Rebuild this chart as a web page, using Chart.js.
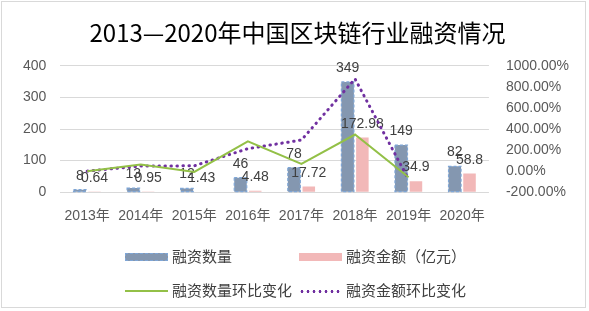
<!DOCTYPE html>
<html>
<head>
<meta charset="utf-8">
<script src="https://cdn.jsdelivr.net/npm/chart.js@4/dist/chart.umd.min.js"></script>
<style>
body { margin: 0; background: #fff; }
#wrap { position: relative; width: 589px; height: 311px; }
#frame { position: absolute; left: 1px; top: 1px; width: 585px; height: 307px; border: 1px solid #D9D9D9; box-sizing: border-box; pointer-events: none; }
.lg-text { position: absolute; font: 15px 'Noto Sans CJK SC', sans-serif; color: #404040; line-height: 18px; white-space: nowrap; }
.lg-sw { position: absolute; box-sizing: border-box; }
</style>
</head>
<body>
<div id="wrap">
  <canvas id="c" width="589" height="311"></canvas>
  <div id="frame"></div>
  <div id="legend"></div>
</div>
<script>
var years = ["2013年", "2014年", "2015年", "2016年", "2017年", "2018年", "2019年", "2020年"];
var dealCount = [8, 13, 12, 46, 78, 349, 149, 82];
var dealAmount = [0.64, 0.95, 1.43, 4.48, 17.72, 172.98, 34.9, 58.8];
var countChange = [0, 62.5, -7.7, 283.3, 69.6, 347.4, -57.3, null];
var amountChange = [0, 48.4, 50.5, 213.3, 295.5, 876.2, -79.8, null];

var tickFont = { family: "'Liberation Sans', 'Noto Sans CJK SC', sans-serif", size: 14 };

// dashed outline for the count bars, then value labels once both bar sets are drawn
var barExtras = {
  id: 'barExtras',
  afterDatasetDraw: function (chart, args) {
    var ds = chart.data.datasets[args.index];
    var ctx = chart.ctx;
    if (ds.dashBorder) {
      ctx.save();
      ctx.strokeStyle = ds.dashBorder;
      ctx.lineWidth = 1.2;
      ctx.setLineDash([3, 2]);
      args.meta.data.forEach(function (bar) {
        var p = bar.getProps(['x', 'y', 'base', 'width'], true);
        ctx.strokeRect(p.x - p.width / 2, p.y, p.width, p.base - p.y);
      });
      ctx.restore();
    }
    if (args.index !== 0) return; // dataset 0 is the last bar set painted
    ctx.save();
    ctx.font = "14px 'Liberation Sans', sans-serif";
    ctx.fillStyle = '#404040';
    ctx.textAlign = 'center';
    ctx.textBaseline = 'alphabetic';
    chart.data.datasets.forEach(function (d, di) {
      if (!d.showLabels) return;
      chart.getDatasetMeta(di).data.forEach(function (bar, i) {
        ctx.fillText(String(d.data[i]), bar.x, bar.y - 10);
      });
    });
    ctx.restore();
  }
};

var ctx = document.getElementById('c').getContext('2d');
var myChart = new Chart(ctx, {
  type: 'bar',
  data: {
    labels: years,
    datasets: [
      {
        label: '融资数量',
        data: dealCount,
        backgroundColor: '#8497B0',
        borderWidth: 0,
        dashBorder: '#7FA6D6',
        showLabels: true,
        yAxisID: 'y',
        order: 1,
        categoryPercentage: 0.55,
        barPercentage: 0.85
      },
      {
        label: '融资金额（亿元）',
        data: dealAmount,
        backgroundColor: '#F2B8B8',
        borderWidth: 0,
        showLabels: true,
        yAxisID: 'y',
        order: 1,
        categoryPercentage: 0.55,
        barPercentage: 0.85
      },
      {
        type: 'line',
        label: '融资数量环比变化',
        data: countChange,
        borderColor: '#93C047',
        borderWidth: 2,
        pointRadius: 0,
        tension: 0,
        yAxisID: 'y1',
        order: 0
      },
      {
        type: 'line',
        label: '融资金额环比变化',
        data: amountChange,
        borderColor: '#7030A0',
        borderWidth: 3,
        borderDash: [0.5, 5.5],
        borderCapStyle: 'round',
        pointRadius: 0,
        tension: 0,
        yAxisID: 'y1',
        order: 0
      }
    ]
  },
  options: {
    responsive: false,
    animation: false,
    devicePixelRatio: 1,
    layout: { padding: { left: 9, right: 3, top: 0, bottom: 70 } },
    plugins: {
      legend: { display: false },
      tooltip: { enabled: false },
      title: {
        display: true,
        text: '2013—2020年中国区块链行业融资情况',
        color: '#000',
        font: { family: "'Noto Sans CJK SC', sans-serif", size: 24, weight: 'normal' },
        padding: { top: 18, bottom: 19 }
      }
    },
    scales: {
      x: {
        grid: { display: false, drawTicks: false },
        border: { display: false },
        ticks: { color: '#595959', font: tickFont, padding: 16, maxRotation: 0, minRotation: 0, autoSkip: false }
      },
      y: {
        position: 'left',
        min: 0, max: 400,
        grid: { color: '#D9D9D9', drawTicks: false },
        border: { display: false },
        ticks: { stepSize: 100, color: '#595959', font: tickFont, padding: 14, autoSkip: false }
      },
      y1: {
        position: 'right',
        min: -200, max: 1000,
        grid: { display: false, drawTicks: false },
        border: { display: false },
        ticks: {
          stepSize: 200, color: '#595959', font: tickFont, padding: 17, autoSkip: false,
          callback: function (v) { return v.toFixed(2) + '%'; }
        }
      }
    }
  },
  plugins: [barExtras]
});

// html legend, two columns x two rows
function buildLegend(chart) {
  var box = document.getElementById('legend');
  var colX = [125, 299];
  var rowY = [257, 291];
  chart.data.datasets.forEach(function (ds, i) {
    var cx = colX[i % 2], cy = rowY[Math.floor(i / 2)];
    var sw = document.createElement('div');
    sw.className = 'lg-sw';
    sw.style.left = cx + 'px';
    sw.style.width = '43px';
    if (ds.type === 'line') {
      if (ds.borderDash) {
        sw.style.top = (cy - 1.5) + 'px';
        sw.style.height = '3px';
        sw.style.backgroundImage = 'radial-gradient(circle, ' + ds.borderColor + ' 1.3px, transparent 1.6px)';
        sw.style.backgroundSize = '6px 3px';
      } else {
        sw.style.top = (cy - 1) + 'px';
        sw.style.height = '2px';
        sw.style.background = ds.borderColor;
      }
    } else {
      sw.style.top = (cy - 4) + 'px';
      sw.style.height = '8px';
      sw.style.background = ds.backgroundColor;
      if (ds.dashBorder) sw.style.border = '1.2px dashed ' + ds.dashBorder;
    }
    box.appendChild(sw);
    var tx = document.createElement('div');
    tx.className = 'lg-text';
    tx.style.left = (cx + 47) + 'px';
    tx.style.top = (cy - 10) + 'px';
    tx.textContent = ds.label;
    box.appendChild(tx);
  });
}
buildLegend(myChart);
</script>
</body>
</html>
